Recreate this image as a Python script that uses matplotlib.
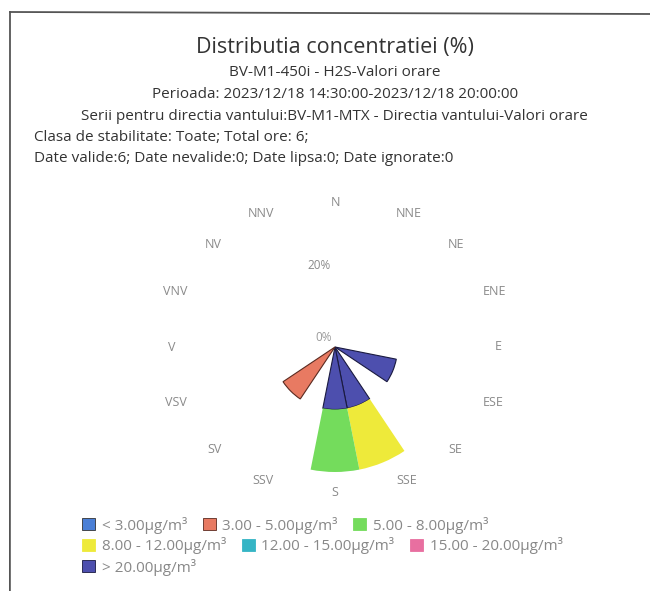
import numpy as np
import matplotlib
matplotlib.use("Agg")
import matplotlib.pyplot as plt
from matplotlib.lines import Line2D
from matplotlib.patches import Patch

plt.rcParams['font.family'] = ['Open Sans', 'DejaVu Sans']

directions = ['N', 'NNE', 'NE', 'ENE', 'E', 'ESE', 'SE', 'SSE',
              'S', 'SSV', 'SV', 'VSV', 'V', 'VNV', 'NV', 'NNV']
total_hours = 6

class_labels = ['< 3.00µg/m³', '3.00 - 5.00µg/m³', '5.00 - 8.00µg/m³',
                '8.00 - 12.00µg/m³', '12.00 - 15.00µg/m³', '15.00 - 20.00µg/m³',
                '> 20.00µg/m³']
class_colors = ['#4a7fd6', '#e87a62', '#74dc5c', '#eeea3a', '#35b5c5', '#e86fa0', '#4d4fae']
class_edges = ['#333333', '#5a2a20', 'none', 'none', 'none', 'none', '#1a1a40']

# hours per direction for each concentration class
h_lt3   = [0, 0, 0, 0, 0, 0, 0, 0, 0, 0, 0, 0, 0, 0, 0, 0]
h_3_5   = [0, 0, 0, 0, 0, 0, 0, 0, 0, 0, 1, 0, 0, 0, 0, 0]
h_5_8   = [0, 0, 0, 0, 0, 0, 0, 0, 1, 0, 0, 0, 0, 0, 0, 0]
h_8_12  = [0, 0, 0, 0, 0, 0, 0, 1, 0, 0, 0, 0, 0, 0, 0, 0]
h_12_15 = [0, 0, 0, 0, 0, 0, 0, 0, 0, 0, 0, 0, 0, 0, 0, 0]
h_15_20 = [0, 0, 0, 0, 0, 0, 0, 0, 0, 0, 0, 0, 0, 0, 0, 0]
h_gt20  = [0, 0, 0, 0, 0, 1, 0, 1, 1, 0, 0, 0, 0, 0, 0, 0]

series = [h_lt3, h_3_5, h_5_8, h_8_12, h_12_15, h_15_20, h_gt20]

W, H = 650, 591
fig = plt.figure(figsize=(W/100, H/100), dpi=100)

# scanned frame
fig.add_artist(Line2D([10/W, 1.0], [1-12/H, 1-14/H], color='#555555', lw=1.3))
fig.add_artist(Line2D([10/W, 9/H], [1-12/H, 0.0], color='#555555', lw=1.3))

txt = '#333333'
fig.text(0.515, 1-47/H, 'Distributia concentratiei (%)', ha='center', va='center',
         fontsize=15.5, color=txt)
fig.text(0.515, 1-73/H, 'BV-M1-450i - H2S-Valori orare', ha='center', va='center',
         fontsize=11, color=txt)
fig.text(0.515, 1-94/H, 'Perioada: 2023/12/18 14:30:00-2023/12/18 20:00:00', ha='center',
         va='center', fontsize=11, color=txt)
fig.text(0.515, 1-116/H, 'Serii pentru directia vantului:BV-M1-MTX - Directia vantului-Valori orare',
         ha='center', va='center', fontsize=11, color=txt)
fig.text(34/W, 1-137/H, 'Clasa de stabilitate: Toate; Total ore: 6;', ha='left', va='center',
         fontsize=11, color=txt)
fig.text(34/W, 1-158/H, 'Date valide:6; Date nevalide:0; Date lipsa:0; Date ignorate:0',
         ha='left', va='center', fontsize=11, color=txt)

cx, cy = 335, 347
rmax = 35
px_per_pct = 3.75
rad = rmax * px_per_pct
ax = fig.add_axes([(cx - rad)/W, (H - cy - rad)/H, 2*rad/W, 2*rad/H], projection='polar')
ax.set_theta_zero_location('N')
ax.set_theta_direction(-1)

theta = np.deg2rad(np.arange(16) * 22.5)
width = np.deg2rad(22.5)

# stacked from the highest class outward
bottom = np.zeros(16)
for i in range(len(series) - 1, -1, -1):
    vals = np.array(series[i]) / total_hours * 100
    m = vals > 0
    if m.any():
        ax.bar(theta[m], vals[m], width=width, bottom=bottom[m], color=class_colors[i],
               edgecolor=class_edges[i], linewidth=0.8)
    bottom = bottom + vals

ax.set_ylim(0, rmax)
ax.set_xticks([])
ax.set_yticks([])
ax.grid(False)
ax.spines['polar'].set_visible(False)

# direction labels around the rose
rx, ry = 160, 145
for k, name in enumerate(directions):
    a = theta[k]
    s, c = np.sin(a), np.cos(a)
    ha = 'left' if s > 0.2 else ('right' if s < -0.2 else 'center')
    ax.text(0.5 + rx*s/(2*rad), 0.5 + ry*c/(2*rad), name, transform=ax.transAxes,
            ha=ha, va='center', fontsize=9, color='#8a8a8a')

ax.annotate('0%', xy=(0, 0), xytext=(-2, 2), textcoords='offset points',
            ha='right', va='bottom', fontsize=8.5, color='#9a9a9a')
ax.annotate('20%', xy=(0, 20), xytext=(-3, 0), textcoords='offset points',
            ha='right', va='bottom', fontsize=8.5, color='#8a8a8a')

# legend laid out in flowing rows like the original
handles = [Patch(facecolor=class_colors[i], edgecolor=class_edges[i] if class_edges[i] != 'none'
                 else class_colors[i], linewidth=0.6) for i in range(7)]
rows = [[0, 1, 2], [3, 4, 5], [6]]
row_y = [525, 546, 567]
for idx, y in zip(rows, row_y):
    fig.legend([handles[i] for i in idx], [class_labels[i] for i in idx], ncol=len(idx),
               loc='center left', bbox_to_anchor=(82/W, 1-y/H), frameon=False,
               fontsize=11, labelcolor='#888888', handlelength=0.85, handleheight=0.85,
               handletextpad=0.45, columnspacing=1.0, borderpad=0, borderaxespad=0)

fig.savefig('out.png', dpi=100)
